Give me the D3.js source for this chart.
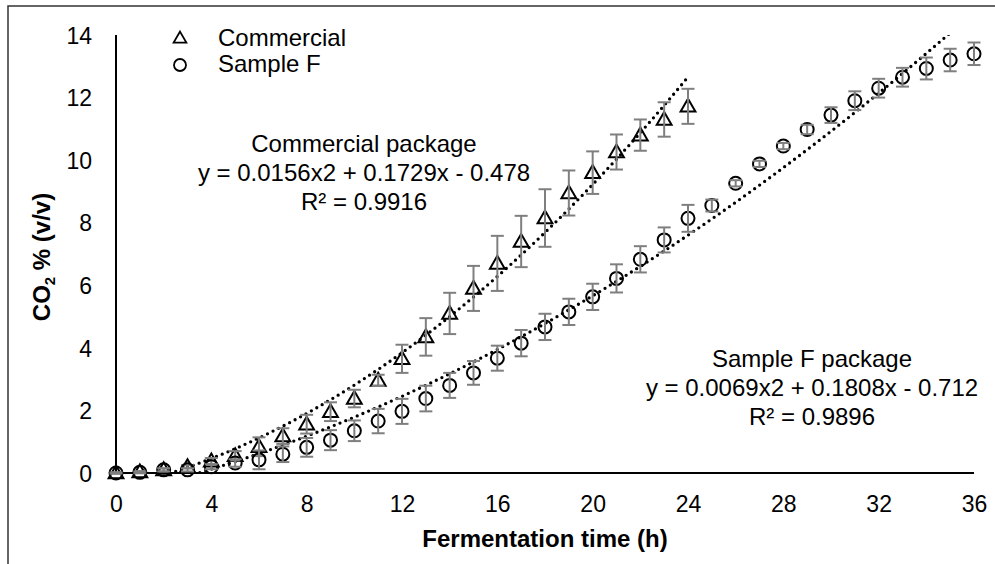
<!DOCTYPE html>
<html>
<head>
<meta charset="utf-8">
<script src="https://cdn.jsdelivr.net/npm/d3@7"></script>
<style>
  body { margin: 0; background: #fff; }
  svg text { font-family: "Liberation Sans", Arial, sans-serif; fill: #000; }
</style>
</head>
<body>
<svg id="chart" width="995" height="564"></svg>
<script>
// ---------- Data ----------
const hoursCommercial = [0,1,2,3,4,5,6,7,8,9,10,11,12,13,14,15,16,17,18,19,20,21,22,23,24];
const commercialMean = [0,0.03,0.1,0.2,0.38,0.55,0.84,1.18,1.56,1.96,2.38,2.96,3.65,4.35,5.1,5.9,6.7,7.4,8.15,8.95,9.6,10.26,10.8,11.3,11.72];
const commercialErr  = [0.02,0.03,0.05,0.05,0.1,0.15,0.3,0.25,0.3,0.3,0.28,0.18,0.45,0.6,0.66,0.72,0.88,0.82,0.92,0.72,0.68,0.56,0.5,0.55,0.56];

const hoursSampleF = [0,1,2,3,4,5,6,7,8,9,10,11,12,13,14,15,16,17,18,19,20,21,22,23,24,25,26,27,28,29,30,31,32,33,34,35,36];
const sampleFMean = [0,0.02,0.1,0.1,0.2,0.32,0.42,0.6,0.82,1.05,1.35,1.66,1.97,2.38,2.8,3.2,3.67,4.15,4.67,5.15,5.63,6.22,6.83,7.45,8.14,8.55,9.26,9.88,10.45,10.98,11.44,11.9,12.3,12.65,12.93,13.2,13.4];
const sampleFErr  = [0.02,0.03,0.05,0.05,0.08,0.12,0.3,0.25,0.3,0.32,0.33,0.39,0.4,0.41,0.4,0.38,0.4,0.42,0.42,0.42,0.42,0.45,0.42,0.4,0.43,0.19,0.1,0.1,0.1,0.15,0.25,0.3,0.3,0.3,0.35,0.36,0.36];

// polynomial trendline coefficients [a, b, c] for y = a*x^2 + b*x + c
const commercialFit = [0.0156, 0.1729, -0.478];
const sampleFFit = [0.0069, 0.1808, -0.712];

const xTicks = [0,4,8,12,16,20,24,28,32,36];
const yTicks = [0,2,4,6,8,10,12,14];

const commercialLabel = ["Commercial package", "y = 0.0156x2 + 0.1729x - 0.478", "R\u00b2 = 0.9916"];
const sampleFLabel = ["Sample F package", "y = 0.0069x2 + 0.1808x - 0.712", "R\u00b2 = 0.9896"];

// ---------- Layout ----------
const svg = d3.select("#chart");
const plot = { left: 116, right: 974, top: 35, bottom: 473 };

const x = d3.scaleLinear().domain([0, 36]).range([plot.left, plot.right]);
const y = d3.scaleLinear().domain([0, 14]).range([plot.bottom, plot.top]);

// outer frame (only left/top edges fall inside the picture)
svg.append("rect")
  .attr("x", 8).attr("y", 6).attr("width", 1100).attr("height", 700)
  .attr("fill", "none").attr("stroke", "#333").attr("stroke-width", 1.5);

svg.append("defs").append("clipPath").attr("id", "plotclip")
  .append("rect")
  .attr("x", plot.left).attr("y", plot.top)
  .attr("width", plot.right - plot.left).attr("height", plot.bottom - plot.top);

// axes
const xAxis = svg.append("g")
  .attr("transform", `translate(0,${plot.bottom})`)
  .call(d3.axisBottom(x).tickValues(xTicks).tickSize(0).tickPadding(23));
const yAxis = svg.append("g")
  .attr("transform", `translate(${plot.left},0)`)
  .call(d3.axisLeft(y).tickValues(yTicks).tickSize(0).tickPadding(24));
[xAxis, yAxis].forEach(g => {
  g.select(".domain").remove();
  g.selectAll("text").style("font-size", "23px").attr("font-family", null);
});
yAxis.selectAll("text").attr("dy", "0.36em");

svg.append("line")
  .attr("x1", plot.left).attr("x2", plot.right)
  .attr("y1", plot.bottom).attr("y2", plot.bottom)
  .attr("stroke", "#000").attr("stroke-width", 2);
svg.append("line")
  .attr("x1", plot.left).attr("x2", plot.left)
  .attr("y1", plot.top).attr("y2", plot.bottom)
  .attr("stroke", "#000").attr("stroke-width", 2);

// axis titles
svg.append("text")
  .attr("x", (plot.left + plot.right) / 2).attr("y", 547)
  .attr("text-anchor", "middle")
  .style("font-size", "24px").style("font-weight", "bold")
  .text("Fermentation time (h)");

const yTitle = svg.append("text")
  .attr("transform", "translate(50,257) rotate(-90)")
  .attr("text-anchor", "middle")
  .style("font-size", "24px").style("font-weight", "bold");
yTitle.append("tspan").text("CO");
yTitle.append("tspan").attr("dy", 5).style("font-size", "15px").text("2");
yTitle.append("tspan").attr("dy", -5).text(" % (v/v)");

// ---------- Series ----------
const triangle = d3.symbol().type(d3.symbolTriangle);
const series = [
  { hours: hoursCommercial, mean: commercialMean, err: commercialErr, fit: commercialFit, shape: "tri" },
  { hours: hoursSampleF, mean: sampleFMean, err: sampleFErr, fit: sampleFFit, shape: "circ" }
];

const trend = d3.line().x(d => x(d[0])).y(d => y(d[1]));
const plotG = svg.append("g").attr("clip-path", "url(#plotclip)");

series.forEach(s => {
  const pts = s.hours.map((h, i) => ({ h, v: s.mean[i], e: s.err[i] }));

  // markers
  if (s.shape === "tri") {
    svg.append("g").selectAll("path").data(pts).join("path")
      .attr("d", triangle.size(95))
      .attr("transform", d => `translate(${x(d.h)},${y(d.v) + 1})`)
      .attr("fill", "none").attr("stroke", "#000").attr("stroke-width", 2);
  } else {
    svg.append("g").selectAll("circle").data(pts).join("circle")
      .attr("cx", d => x(d.h)).attr("cy", d => y(d.v)).attr("r", 6.5)
      .attr("fill", "none").attr("stroke", "#000").attr("stroke-width", 2);
  }

  // error bars
  const eb = svg.append("g").attr("stroke", "#7f7f7f").attr("stroke-width", 2);
  eb.selectAll("line.v").data(pts).join("line").attr("class", "v")
    .attr("x1", d => x(d.h)).attr("x2", d => x(d.h))
    .attr("y1", d => y(d.v - d.e)).attr("y2", d => y(d.v + d.e));
  eb.selectAll("line.t").data(pts).join("line").attr("class", "t")
    .attr("x1", d => x(d.h) - 6.5).attr("x2", d => x(d.h) + 6.5)
    .attr("y1", d => y(d.v + d.e)).attr("y2", d => y(d.v + d.e));
  eb.selectAll("line.b").data(pts).join("line").attr("class", "b")
    .attr("x1", d => x(d.h) - 6.5).attr("x2", d => x(d.h) + 6.5)
    .attr("y1", d => y(d.v - d.e)).attr("y2", d => y(d.v - d.e));

  // dotted polynomial trendline over the series' time span
  const [a, b, c] = s.fit;
  const last = s.hours[s.hours.length - 1];
  const curve = d3.range(0, last + 0.001, 0.1).map(t => [t, a * t * t + b * t + c]);
  plotG.append("path")
    .attr("d", trend(curve))
    .attr("fill", "none").attr("stroke", "#000")
    .attr("stroke-width", 3.3).attr("stroke-linecap", "round")
    .attr("stroke-dasharray", "0 6.2");
});

// ---------- Legend ----------
const legend = svg.append("g");
legend.append("path")
  .attr("d", d3.symbol().type(d3.symbolTriangle).size(70)())
  .attr("transform", "translate(180,39)")
  .attr("fill", "none").attr("stroke", "#000").attr("stroke-width", 1.8);
legend.append("circle")
  .attr("cx", 180).attr("cy", 65).attr("r", 6)
  .attr("fill", "none").attr("stroke", "#000").attr("stroke-width", 1.8);
legend.append("text").attr("x", 218).attr("y", 46).style("font-size", "24px").text("Commercial");
legend.append("text").attr("x", 218).attr("y", 72).style("font-size", "24px").text("Sample F");

// ---------- Trendline labels ----------
function label(lines, cx, y0) {
  const t = svg.append("text").attr("text-anchor", "middle").style("font-size", "24px");
  lines.forEach((s, i) => t.append("tspan").attr("x", cx).attr("y", y0 + i * 29).text(s));
}
label(commercialLabel, 364, 152);
label(sampleFLabel, 812, 367);
</script>
</body>
</html>
